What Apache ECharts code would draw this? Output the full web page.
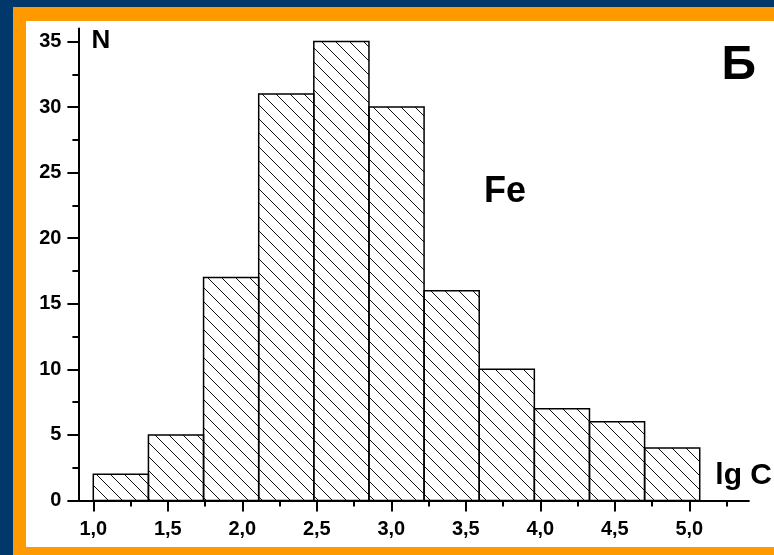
<!DOCTYPE html>
<html>
<head>
<meta charset="utf-8">
<script src="https://cdn.jsdelivr.net/npm/echarts@6/dist/echarts.min.js"></script>
<style>
  html, body { margin: 0; padding: 0; width: 774px; height: 555px; overflow: hidden; background: #01386c; }
  #orange { position: absolute; left: 13px; top: 7px; width: 761px; height: 548px; background: #ff9900; }
  #white { position: absolute; left: 26px; top: 21px; width: 748px; height: 526px; background: #ffffff; }
  #chart { position: absolute; left: 0; top: 0; width: 774px; height: 555px; }
</style>
</head>
<body>
<div id="orange"></div>
<div id="white"></div>
<div id="chart"></div>
<script>
// Histogram bin edges (lg C) and counts (N)
const binEdges = [1.00, 1.37, 1.74, 2.11, 2.48, 2.85, 3.22, 3.59, 3.96, 4.33, 4.70, 5.07];
const counts = [2, 5, 17, 31, 35, 30, 16, 10, 7, 6, 4];

// Axis ticks and labels
const xTickValues = [1.0, 1.5, 2.0, 2.5, 3.0, 3.5, 4.0, 4.5, 5.0];
const xTickLabels = ['1,0', '1,5', '2,0', '2,5', '3,0', '3,5', '4,0', '4,5', '5,0'];
const xMinorTicks = [1.25, 1.75, 2.25, 2.75, 3.25, 3.75, 4.25, 4.75, 5.25];
const yTickValues = [0, 5, 10, 15, 20, 25, 30, 35];
const yTickLabels = ['0', '5', '10', '15', '20', '25', '30', '35'];
const yMinorTicks = [2.5, 7.5, 12.5, 17.5, 22.5, 27.5, 32.5];

// Annotation texts
const yAxisName = 'N';
const xAxisName = 'lg C';
const elementLabel = 'Fe';
const panelLabel = 'Б';

const FONT = 'Arial, "Liberation Sans", sans-serif';

// Hatch pattern tile ("\" diagonal lines)
const tile = document.createElement('canvas');
tile.width = 14; tile.height = 14;
const tc = tile.getContext('2d');
tc.strokeStyle = '#111';
tc.lineWidth = 1;
[-14, 0, 14].forEach(function (c) {
  tc.beginPath();
  tc.moveTo(0, c);
  tc.lineTo(14, 14 + c);
  tc.stroke();
});
const hatch = { image: tile, repeat: 'repeat' };

const seriesData = counts.map(function (v, i) { return [binEdges[i], binEdges[i + 1], v]; });

const chart = echarts.init(document.getElementById('chart'), null, { renderer: 'canvas' });

const axisLineStyle = { color: '#000', width: 2 };
const labelStyle = { color: '#000', fontFamily: FONT, fontWeight: 'bold', fontSize: 20 };

chart.setOption({
  backgroundColor: 'transparent',
  animation: false,
  grid: { left: 78.4, top: 28.4, width: 670.5, height: 472.1, containLabel: false },
  xAxis: [
    {
      type: 'value', min: 0.9, max: 5.4, position: 'bottom',
      axisLine: { show: true, onZero: false, lineStyle: axisLineStyle },
      axisTick: { show: true, inside: false, length: 11, customValues: xTickValues, lineStyle: { color: '#000', width: 2 } },
      axisLabel: {
        show: true, customValues: xTickValues, margin: 18.5,
        formatter: function (v) {
          const i = xTickValues.findIndex(function (t) { return Math.abs(t - v) < 1e-6; });
          return i >= 0 ? xTickLabels[i] : '';
        },
        ...labelStyle
      },
      splitLine: { show: false }
    },
    {
      type: 'value', min: 0.9, max: 5.4, position: 'bottom',
      axisLine: { show: false },
      axisTick: { show: true, inside: false, length: 6, customValues: xMinorTicks, lineStyle: { color: '#000', width: 2 } },
      axisLabel: { show: false },
      splitLine: { show: false }
    }
  ],
  yAxis: [
    {
      type: 'value', min: 0, max: 36, position: 'left',
      axisLine: { show: true, onZero: false, lineStyle: axisLineStyle },
      axisTick: { show: true, inside: false, length: 11, customValues: yTickValues, lineStyle: { color: '#000', width: 2 } },
      axisLabel: {
        show: true, customValues: yTickValues, margin: 17,
        formatter: function (v) {
          const i = yTickValues.indexOf(v);
          return i >= 0 ? yTickLabels[i] : '';
        },
        ...labelStyle
      },
      splitLine: { show: false }
    },
    {
      type: 'value', min: 0, max: 36, position: 'left',
      axisLine: { show: false },
      axisTick: { show: true, inside: false, length: 6, customValues: yMinorTicks, lineStyle: { color: '#000', width: 2 } },
      axisLabel: { show: false },
      splitLine: { show: false }
    }
  ],
  series: [{
    type: 'custom',
    xAxisIndex: 0,
    yAxisIndex: 0,
    data: seriesData,
    encode: { x: [0, 1], y: 2 },
    renderItem: function (params, api) {
      const p0 = api.coord([api.value(0), 0]);
      const p1 = api.coord([api.value(1), api.value(2)]);
      return {
        type: 'rect',
        shape: { x: p0[0], y: p1[1], width: p1[0] - p0[0], height: p0[1] - p1[1] },
        style: { fill: hatch, stroke: '#000', lineWidth: 1.5 }
      };
    }
  }],
  graphic: [
    { type: 'text', left: 91.5, top: 27.5, style: { text: yAxisName, fill: '#000', font: 'bold 26px ' + FONT } },
    { type: 'text', left: 484, top: 174, style: { text: elementLabel, fill: '#000', font: 'bold 36px ' + FONT } },
    { type: 'text', left: 721.5, top: 41.5, style: { text: panelLabel, fill: '#000', font: 'bold 48px ' + FONT } },
    { type: 'text', left: 715.3, top: 460.5, style: { text: xAxisName, fill: '#000', font: 'bold 30px ' + FONT } }
  ]
});
</script>
</body>
</html>
